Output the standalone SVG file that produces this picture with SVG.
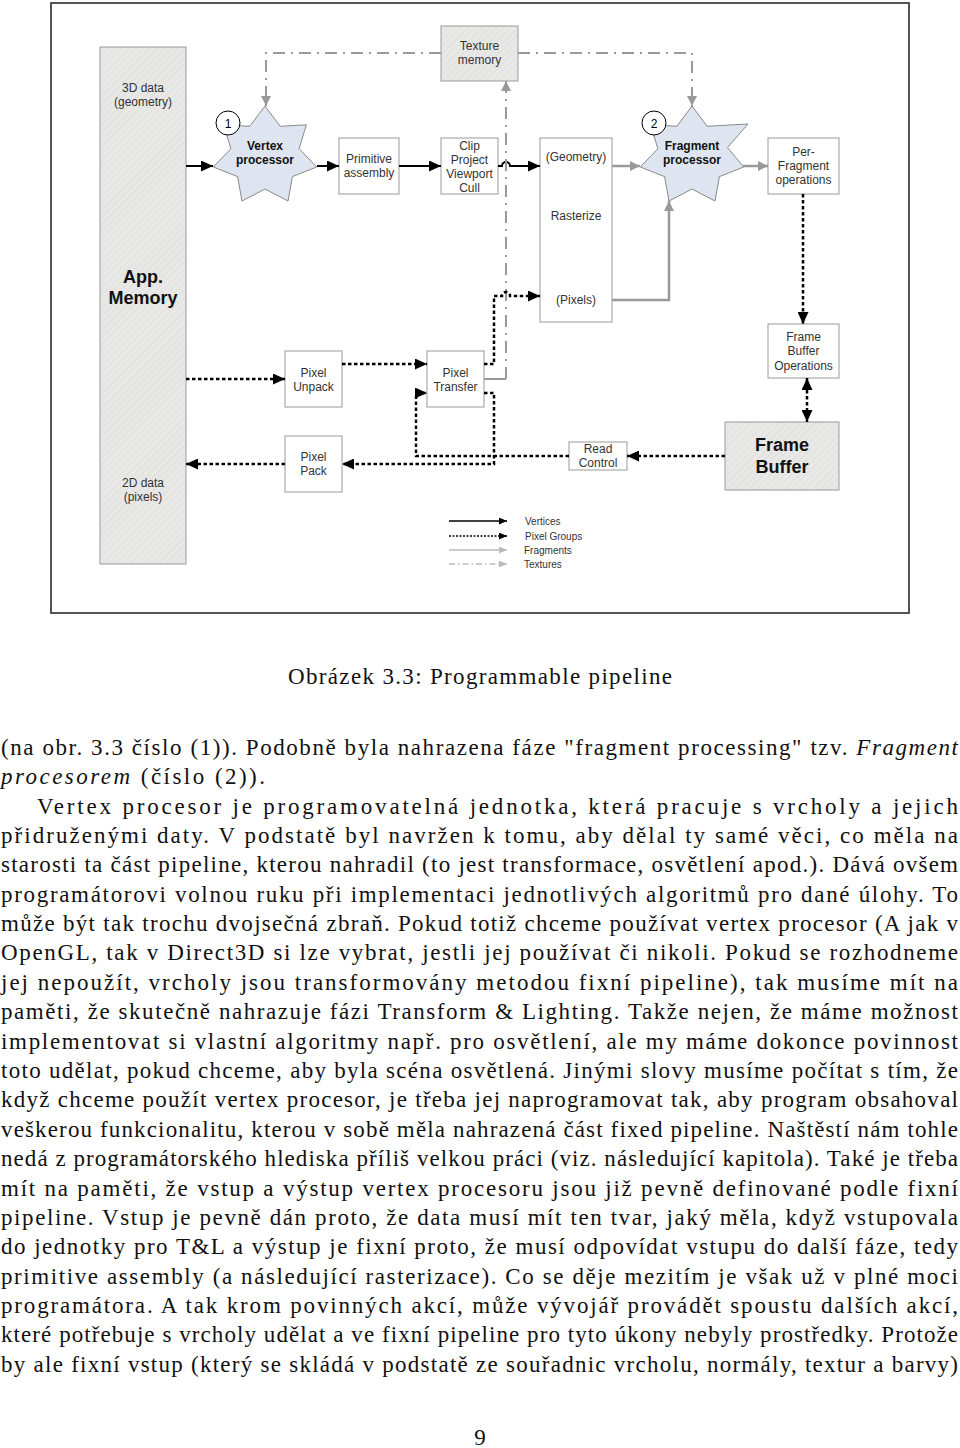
<svg xmlns="http://www.w3.org/2000/svg" width="960" height="1448" viewBox="0 0 960 1448">
<defs>
<pattern id="hatch" width="5" height="5" patternUnits="userSpaceOnUse" patternTransform="rotate(45)">
<rect width="5" height="5" fill="#e8e8e6"/>
<line x1="0" y1="0" x2="0" y2="5" stroke="#dcdcda" stroke-width="1.5"/>
</pattern>
<marker id="ab" viewBox="0 0 12 11" refX="12" refY="5.5" markerWidth="12" markerHeight="11" markerUnits="userSpaceOnUse" orient="auto-start-reverse"><path d="M0,0 L12,5.5 L0,11 z" fill="#000"/></marker>
<marker id="ag" viewBox="0 0 10 10" refX="10" refY="5" markerWidth="10" markerHeight="10" markerUnits="userSpaceOnUse" orient="auto"><path d="M0,0 L10,5 L0,10 z" fill="#999"/></marker>
<marker id="al" viewBox="0 0 8 7" refX="8" refY="3.5" markerWidth="8" markerHeight="7" markerUnits="userSpaceOnUse" orient="auto"><path d="M0,0 L8,3.5 L0,7 z" fill="#000"/></marker>
<marker id="alg" viewBox="0 0 8 7" refX="8" refY="3.5" markerWidth="8" markerHeight="7" markerUnits="userSpaceOnUse" orient="auto"><path d="M0,0 L8,3.5 L0,7 z" fill="#bbb"/></marker>
</defs>
<style>
.box{fill:#fff;stroke:#999;stroke-width:1}
.gbox{fill:url(#hatch);stroke:#999;stroke-width:1}
.star{fill:#dfe5f0;stroke:#888;stroke-width:1}
.t{font-family:"Liberation Sans",Arial,sans-serif;font-size:12px;fill:#333;text-anchor:middle}
.tb{font-weight:bold;fill:#111}
.big{font-size:18px;font-weight:bold;fill:#111}
.lg{font-family:"Liberation Sans",Arial,sans-serif;font-size:10px;fill:#333}
.vert{fill:none;stroke:#000;stroke-width:2;marker-end:url(#ab)}
.pix{fill:none;stroke:#000;stroke-width:2.5;stroke-dasharray:3.5 2.5;marker-end:url(#ab)}
.frag{fill:none;stroke:#999;stroke-width:2.5;marker-end:url(#ag)}
.tex{fill:none;stroke:#999;stroke-width:2;stroke-dasharray:12 6 2 6}
.body{font-family:"Liberation Serif","Times New Roman",serif;font-size:23px;fill:#111}
</style>
<rect x="51" y="3" width="858" height="610" fill="#fff" stroke="#555" stroke-width="2"/>

<g id="app-memory">
<rect class="gbox" x="100" y="47" width="86" height="517"/>
<text class="t" x="143" y="92">3D data</text>
<text class="t" x="143" y="106">(geometry)</text>
<text class="t big" x="143" y="283">App.</text>
<text class="t big" x="143" y="304">Memory</text>
<text class="t" x="143" y="487">2D data</text>
<text class="t" x="143" y="501">(pixels)</text>
</g>
<g id="texture-memory">
<rect class="gbox" x="441" y="26" width="77" height="55"/>
<text class="t" x="479.5" y="50">Texture</text>
<text class="t" x="479.5" y="64">memory</text>
</g>
<g id="vertex-processor">
<polygon class="star" points="265,106 280.2,126.3 306.4,124.8 299.1,148.7 316.7,167 292.4,176.6 288,201 265,189 242,201 237.6,176.6 213.3,167 230.9,148.7 223.6,124.8 249.8,126.3"/>
<text class="t tb" x="265" y="150">Vertex</text>
<text class="t tb" x="265" y="164">processor</text>
<circle cx="228" cy="123" r="12" fill="#fff" stroke="#000" stroke-width="1"/>
<text class="t" x="228" y="127.5" style="fill:#000">1</text>
</g>
<g id="primitive-assembly">
<rect class="box" x="339" y="138" width="60" height="56"/>
<text class="t" x="369" y="163">Primitive</text>
<text class="t" x="369" y="177">assembly</text>
</g>
<g id="clip">
<rect class="box" x="441" y="138" width="57" height="56"/>
<text class="t" x="469.5" y="150">Clip</text>
<text class="t" x="469.5" y="164">Project</text>
<text class="t" x="469.5" y="178">Viewport</text>
<text class="t" x="469.5" y="192">Cull</text>
</g>
<g id="rasterize">
<rect class="box" x="540" y="138" width="72" height="184"/>
<text class="t" x="576" y="161">(Geometry)</text>
<text class="t" x="576" y="220">Rasterize</text>
<text class="t" x="576" y="304">(Pixels)</text>
</g>
<g id="fragment-processor">
<polygon class="star" points="692,106 707.2,126.3 748,124 727.5,147.5 743.7,167 719.4,176.6 715,201 692,189 669,201 664.6,176.6 640.3,167 657.9,148.7 650.6,124.8 676.8,126.3"/>
<text class="t tb" x="692" y="150">Fragment</text>
<text class="t tb" x="692" y="164">processor</text>
<circle cx="654" cy="123" r="12" fill="#fff" stroke="#000" stroke-width="1"/>
<text class="t" x="654" y="127.5" style="fill:#000">2</text>
</g>
<g id="per-fragment">
<rect class="box" x="768" y="138" width="71" height="56"/>
<text class="t" x="803.5" y="156">Per-</text>
<text class="t" x="803.5" y="170">Fragment</text>
<text class="t" x="803.5" y="184">operations</text>
</g>
<g id="frame-buffer-operations">
<rect class="box" x="768" y="324" width="71" height="54"/>
<text class="t" x="803.5" y="341">Frame</text>
<text class="t" x="803.5" y="355">Buffer</text>
<text class="t" x="803.5" y="370">Operations</text>
</g>
<g id="frame-buffer">
<rect class="gbox" x="725" y="422" width="114" height="68"/>
<text class="t big" x="782" y="451">Frame</text>
<text class="t big" x="782" y="473">Buffer</text>
</g>
<g id="read-control">
<rect class="box" x="569" y="442" width="58" height="28"/>
<text class="t" x="598" y="453">Read</text>
<text class="t" x="598" y="467">Control</text>
</g>
<g id="pixel-unpack">
<rect class="box" x="285" y="351" width="57" height="56"/>
<text class="t" x="313.5" y="377">Pixel</text>
<text class="t" x="313.5" y="391">Unpack</text>
</g>
<g id="pixel-transfer">
<rect class="box" x="427" y="351" width="57" height="56"/>
<text class="t" x="455.5" y="377">Pixel</text>
<text class="t" x="455.5" y="391">Transfer</text>
</g>
<g id="pixel-pack">
<rect class="box" x="285" y="436" width="57" height="56"/>
<text class="t" x="313.5" y="461">Pixel</text>
<text class="t" x="313.5" y="475">Pack</text>
</g>

<g id="connectors">
<path class="vert" d="M186,166 H213"/>
<path class="vert" d="M317,166 H339"/>
<path class="vert" d="M399,166 H441"/>
<path class="vert" d="M498,166 H502 A4,4 0 0 1 510,166 H540"/>
<path class="frag" d="M612,166 H640"/>
<path class="frag" d="M612,300 H669 V201"/>
<path class="frag" d="M743,166 H768"/>
<path class="tex" d="M441,53 H266 V106" marker-end="url(#ag)"/>
<path class="tex" d="M518,53 H692 V106" marker-end="url(#ag)"/>
<path d="M484,379 H506" fill="none" stroke="#999" stroke-width="2"/>
<path class="tex" d="M506,379 V81" marker-end="url(#ag)"/>
<path class="pix" d="M186,379 H285"/>
<path class="pix" d="M342,364 H427"/>
<path class="pix" d="M484,364 H494 V296 H502 A4,4 0 0 1 510,296 H540"/>
<path class="pix" d="M803,194 V324"/>
<path class="pix" d="M807,378 V422" marker-start="url(#ab)"/>
<path class="pix" d="M725,456 H627"/>
<path class="pix" d="M569,456 H416 V393 H427"/>
<path class="pix" d="M484,393 H494 V464 H342"/>
<path class="pix" d="M285,464 H186"/>
</g>

<g id="legend">
<path d="M449,521 H507" fill="none" stroke="#000" stroke-width="1.5" marker-end="url(#al)"/>
<path d="M449,536 H507" fill="none" stroke="#000" stroke-width="1.5" stroke-dasharray="2 1.5" marker-end="url(#al)"/>
<path d="M449,550 H507" fill="none" stroke="#bbb" stroke-width="1.5" marker-end="url(#alg)"/>
<path d="M449,564 H507" fill="none" stroke="#bbb" stroke-width="1.5" stroke-dasharray="6 3 1.5 3" marker-end="url(#alg)"/>
<text class="lg" x="525" y="525">Vertices</text>
<text class="lg" x="525" y="540">Pixel Groups</text>
<text class="lg" x="524" y="554">Fragments</text>
<text class="lg" x="524" y="568">Textures</text>
</g>

<g id="page-text">
<text class="body" x="480" y="684" text-anchor="middle" textLength="384" lengthAdjust="spacing">Obrázek 3.3: Programmable pipeline</text>
<text class="body" x="1" y="755" textLength="957" lengthAdjust="spacing">(na obr. 3.3 číslo (1)). Podobně byla nahrazena fáze "fragment processing" tzv. <tspan font-style="italic">Fragment</tspan></text>
<text class="body" x="1" y="784" textLength="264" lengthAdjust="spacing"><tspan font-style="italic">procesorem</tspan> (číslo (2)).</text>
<text class="body" x="37" y="814" textLength="921" lengthAdjust="spacing">Vertex procesor je programovatelná jednotka, která pracuje s vrcholy a jejich</text>
<text class="body" x="1" y="843" textLength="957" lengthAdjust="spacing">přidruženými daty. V podstatě byl navržen k tomu, aby dělal ty samé věci, co měla na</text>
<text class="body" x="1" y="872" textLength="957" lengthAdjust="spacing">starosti ta část pipeline, kterou nahradil (to jest transformace, osvětlení apod.). Dává ovšem</text>
<text class="body" x="1" y="902" textLength="957" lengthAdjust="spacing">programátorovi volnou ruku při implementaci jednotlivých algoritmů pro dané úlohy. To</text>
<text class="body" x="1" y="931" textLength="957" lengthAdjust="spacing">může být tak trochu dvojsečná zbraň. Pokud totiž chceme používat vertex procesor (A jak v</text>
<text class="body" x="1" y="960" textLength="957" lengthAdjust="spacing">OpenGL, tak v Direct3D si lze vybrat, jestli jej používat či nikoli. Pokud se rozhodneme</text>
<text class="body" x="1" y="990" textLength="957" lengthAdjust="spacing">jej nepoužít, vrcholy jsou transformovány metodou fixní pipeline), tak musíme mít na</text>
<text class="body" x="1" y="1019" textLength="957" lengthAdjust="spacing">paměti, že skutečně nahrazuje fázi Transform &amp; Lighting. Takže nejen, že máme možnost</text>
<text class="body" x="1" y="1049" textLength="957" lengthAdjust="spacing">implementovat si vlastní algoritmy např. pro osvětlení, ale my máme dokonce povinnost</text>
<text class="body" x="1" y="1078" textLength="957" lengthAdjust="spacing">toto udělat, pokud chceme, aby byla scéna osvětlená. Jinými slovy musíme počítat s tím, že</text>
<text class="body" x="1" y="1107" textLength="957" lengthAdjust="spacing">když chceme použít vertex procesor, je třeba jej naprogramovat tak, aby program obsahoval</text>
<text class="body" x="1" y="1137" textLength="957" lengthAdjust="spacing">veškerou funkcionalitu, kterou v sobě měla nahrazená část fixed pipeline. Naštěstí nám tohle</text>
<text class="body" x="1" y="1166" textLength="957" lengthAdjust="spacing">nedá z programátorského hlediska příliš velkou práci (viz. následující kapitola). Také je třeba</text>
<text class="body" x="1" y="1196" textLength="957" lengthAdjust="spacing">mít na paměti, že vstup a výstup vertex procesoru jsou již pevně definované podle fixní</text>
<text class="body" x="1" y="1225" textLength="957" lengthAdjust="spacing">pipeline. Vstup je pevně dán proto, že data musí mít ten tvar, jaký měla, když vstupovala</text>
<text class="body" x="1" y="1254" textLength="957" lengthAdjust="spacing">do jednotky pro T&amp;L a výstup je fixní proto, že musí odpovídat vstupu do další fáze, tedy</text>
<text class="body" x="1" y="1284" textLength="957" lengthAdjust="spacing">primitive assembly (a následující rasterizace). Co se děje mezitím je však už v plné moci</text>
<text class="body" x="1" y="1313" textLength="957" lengthAdjust="spacing">programátora. A tak krom povinných akcí, může vývojář provádět spoustu dalších akcí,</text>
<text class="body" x="1" y="1342" textLength="957" lengthAdjust="spacing">které potřebuje s vrcholy udělat a ve fixní pipeline pro tyto úkony nebyly prostředky. Protože</text>
<text class="body" x="1" y="1372" textLength="957" lengthAdjust="spacing">by ale fixní vstup (který se skládá v podstatě ze souřadnic vrcholu, normály, textur a barvy)</text>
<text class="body" x="480" y="1445" text-anchor="middle">9</text>
</g>
</svg>
